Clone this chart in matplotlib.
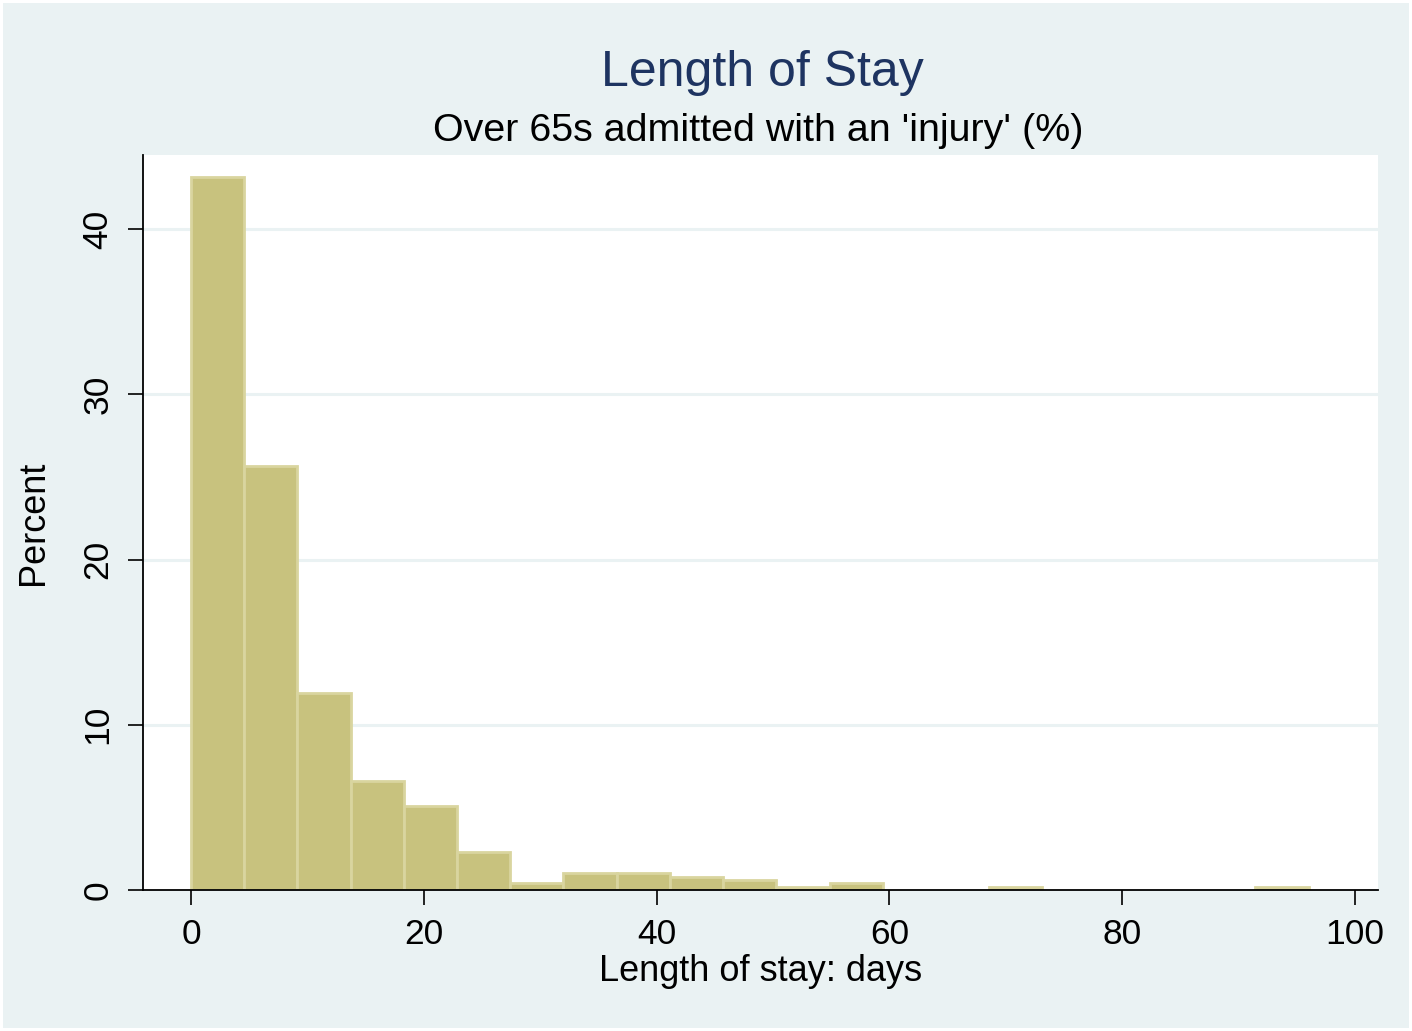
import numpy as np
import matplotlib.pyplot as plt
from matplotlib.patches import Rectangle

# histogram of length of stay (percent per bin), 21 bins from 0 to 96 days
bin_start = 0
bin_width = 96 / 21
percent = [43.15, 25.66, 11.92, 6.6, 5.08, 2.28, 0.42, 1.03, 1.03, 0.79, 0.6,
           0.18, 0.42, 0.0, 0.0, 0.18, 0.0, 0.0, 0.0, 0.0, 0.18]
x_ticks = [0, 20, 40, 60, 80, 100]
y_ticks = [0, 10, 20, 30, 40]

title = "Length of Stay"
subtitle = "Over 65s admitted with an 'injury' (%)"
xlabel = "Length of stay: days"
ylabel = "Percent"

plt.rcParams['font.family'] = ['Liberation Sans', 'DejaVu Sans']

fig = plt.figure(figsize=(14.12, 10.31), dpi=100)
fig.patch.set_facecolor('white')
fig.add_artist(Rectangle((3 / 1412, 3 / 1031), 1 - 6 / 1412, 1 - 6 / 1031,
                         transform=fig.transFigure, facecolor='#EAF2F3',
                         edgecolor='none', zorder=-10))

ax = fig.add_axes([143 / 1412, 1 - 890 / 1031, (1378 - 143) / 1412, (890 - 155) / 1031])
ax.set_facecolor('white')

# only draw bins that have counts
lefts = bin_start + bin_width * np.arange(len(percent))
heights = np.array(percent)
keep = heights > 0
ax.bar(lefts[keep], heights[keep], width=bin_width, align='edge', color='#C8C27E',
       edgecolor='#D9D59F', linewidth=2, zorder=2)

ax.set_xlim(-4.12, 101.97)
ax.set_ylim(0, 44.48)
ax.set_xticks(x_ticks)
ax.set_yticks(y_ticks)
ax.set_yticklabels([str(v) for v in y_ticks], rotation=90, va='center')
ax.tick_params(axis='x', labelsize=25.5, length=11, width=1.2, pad=9)
ax.tick_params(axis='y', labelsize=25.5, length=10.5, width=1.2, pad=10)

for v in y_ticks[1:]:
    ax.axhline(v, color='#EAF2F3', linewidth=2.2, zorder=1)

for side in ['top', 'right']:
    ax.spines[side].set_visible(False)
for side in ['left', 'bottom']:
    ax.spines[side].set_linewidth(1.3)
    ax.spines[side].set_zorder(3)

ax.set_xlabel(xlabel, fontsize=26, labelpad=2)
ax.set_ylabel(ylabel, fontsize=26, labelpad=22)

fig.text(762 / 1412, 1 - 73 / 1031, title, fontsize=36, color='#1E3461',
         ha='center', va='center')
fig.text(758 / 1412, 1 - 131 / 1031, subtitle, fontsize=28.4, color='black',
         ha='center', va='center')

plt.savefig('out.png', dpi=100, facecolor=fig.get_facecolor())
